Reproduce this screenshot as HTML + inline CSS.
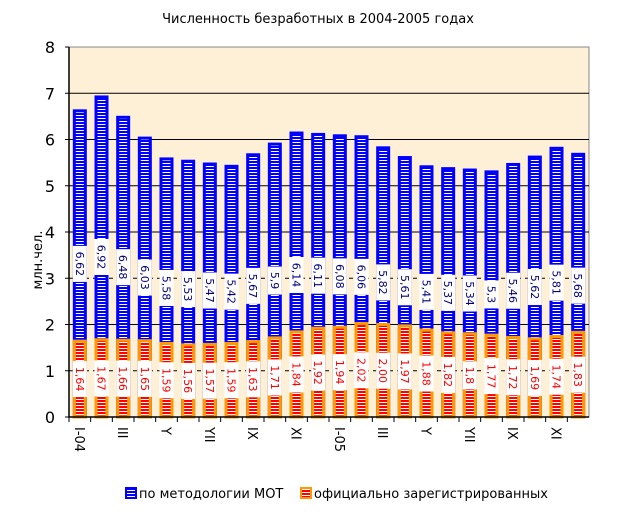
<!DOCTYPE html>
<html><head><meta charset="utf-8"><style>
body{margin:0;background:#fff;}
svg{display:block;font-family:"DejaVu Sans","Liberation Sans",sans-serif;}
</style></head><body>
<svg id="chart" width="624" height="515">
<defs>
<pattern id="pb" width="4" height="3" patternUnits="userSpaceOnUse"><rect width="4" height="3" fill="#0000ff"/><rect y="1" width="4" height="1" fill="#fff"/></pattern>
<pattern id="po" width="4" height="3" patternUnits="userSpaceOnUse"><rect width="4" height="3" fill="#fff"/><rect y="1" width="4" height="2" fill="#ff0000"/></pattern>
</defs>
<text x="318" y="23" text-anchor="middle" font-size="13">Численность безработных в 2004-2005 годах</text>
<rect x="69" y="47" width="520" height="370" fill="#fdf0d6" stroke="#888"/>
<g id="grid"></g><g id="bars"></g><g id="labels"></g><g id="axes"></g>
<text transform="translate(42,260) rotate(-90)" text-anchor="middle" font-size="13">млн.чел.</text>
<g>
<rect x="126" y="488" width="10" height="10" fill="url(#pb)" stroke="#00f" stroke-width="2"/>
<text x="139" y="498" font-size="13">по методологии МОТ</text>
<rect x="301" y="488" width="10" height="10" fill="url(#po)" stroke="#ff9900" stroke-width="2"/>
<text x="314" y="498" font-size="13">официально зарегистрированных</text>
</g>
</svg>
<script>
const categories=["I-04","II","III","IV","Y","VI","YII","VIII","IX","X","XI","XII","I-05","II","III","IV","Y","VI","YII","VIII","IX","X","XI","XII"];
const motValues=[6.62,6.92,6.48,6.03,5.58,5.53,5.47,5.42,5.67,5.9,6.14,6.11,6.08,6.06,5.82,5.61,5.41,5.37,5.34,5.3,5.46,5.62,5.81,5.68];
const officialValues=[1.64,1.67,1.66,1.65,1.59,1.56,1.57,1.59,1.63,1.71,1.84,1.92,1.94,2.02,2.00,1.97,1.88,1.82,1.8,1.77,1.72,1.69,1.74,1.83];
const motLabels=["6,62","6,92","6,48","6,03","5,58","5,53","5,47","5,42","5,67","5,9","6,14","6,11","6,08","6,06","5,82","5,61","5,41","5,37","5,34","5,3","5,46","5,62","5,81","5,68"];
const officialLabels=["1,64","1,67","1,66","1,65","1,59","1,56","1,57","1,59","1,63","1,71","1,84","1,92","1,94","2,02","2,00","1,97","1,88","1,82","1,8","1,77","1,72","1,69","1,74","1,83"];
const yTicks=[0,1,2,3,4,5,6,7,8];
const NS="http://www.w3.org/2000/svg";
const X0=69,W=520,Y0=417,YT=47;
const slot=W/categories.length;
const y=v=>Y0-(v/8)*(Y0-YT);
const xc=i=>X0+slot*(i+0.5);
function mk(t,a,p){const e=document.createElementNS(NS,t);for(const k in a)e.setAttribute(k,a[k]);p.appendChild(e);return e;}
const grid=document.getElementById('grid'),bars=document.getElementById('bars'),labels=document.getElementById('labels'),axes=document.getElementById('axes');
yTicks.forEach(v=>{
 if(v>0&&v<8){const l=mk('line',{x1:X0,x2:X0+W,y1:y(v),y2:y(v),stroke:'#000','stroke-width':1},grid);
 
 
 if(v<=3&&v%2==1)l.setAttribute('stroke-dasharray','4,4');}
 const t=mk('text',{x:55,y:y(v)+6,'text-anchor':'end','font-size':16},axes);t.textContent=v;
 
 
 const tk=mk('line',{x1:X0-4,x2:X0,y1:y(v),y2:y(v),stroke:'#000'},axes);
 
 
});
const bw=11;
categories.forEach((c,i)=>{
 const cx=xc(i);
 const b=mk('rect',{x:cx-bw/2,y:y(motValues[i]),width:bw,height:Y0-y(motValues[i]),fill:'url(#pb)',stroke:'#0000ff','stroke-width':3},bars);
 
 
 const o=mk('rect',{x:cx-bw/2,y:y(officialValues[i]),width:bw,height:Y0-y(officialValues[i]),fill:'url(#po)',stroke:'#ff9900','stroke-width':3},bars);
 
 
 [[motValues[i],motLabels[i],'#000080','label-mot-'],[officialValues[i],officialLabels[i],'#ff0000','label-official-']].forEach(([v,s,col,n])=>{
  const cy=y(v/2);
  const h=s.length*8+4;
  const r=mk('rect',{x:cx-7,y:cy-h/2,width:14,height:h,fill:'#fff'},labels);
  
  
  const t=mk('text',{transform:`translate(${cx-4},${cy}) rotate(90)`,'text-anchor':'middle','font-size':11,fill:col},labels);
  t.textContent=s;
  
  
 });
 const tk=mk('line',{x1:X0+slot*i,x2:X0+slot*i,y1:Y0,y2:Y0+5,stroke:'#000'},axes);
 
 
 if(i%2==0){const t=mk('text',{transform:`translate(${cx-5},${Y0+10}) rotate(90)`,'font-size':13},axes);
 t.textContent=c;
 
 }
});
const ax=mk('path',{d:`M${X0},${YT}V${Y0}H${X0+W}`,stroke:'#000',fill:'none','stroke-width':1.5},axes);


</script>
</body></html>
